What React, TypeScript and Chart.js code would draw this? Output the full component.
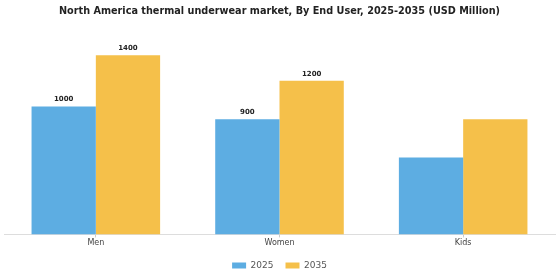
import React, { useEffect, useRef } from "react";
import { Chart, registerables } from "chart.js";

Chart.register(...registerables);

const categories = ["Men", "Women", "Kids"];
const values2025 = [1000, 900, 600];
const values2035 = [1400, 1200, 900];
const showLabels2025 = [true, true, false];
const showLabels2035 = [true, true, false];
const seriesNames = ["2025", "2035"];
const yMax = 1600;

const valueLabelPlugin = {
  id: "valueLabels",
  afterDatasetsDraw(chart: any) {
    const ctx = chart.ctx;
    const flags = [showLabels2025, showLabels2035];
    ctx.save();
    ctx.font = "bold 7px 'DejaVu Sans'";
    ctx.fillStyle = "#222";
    ctx.textAlign = "center";
    ctx.textBaseline = "middle";
    chart.data.datasets.forEach((ds: any, di: number) => {
      const meta = chart.getDatasetMeta(di);
      meta.data.forEach((bar: any, i: number) => {
        if (!flags[di][i]) return;
        ctx.fillText(String(ds.data[i]), bar.x, bar.y - 7);
      });
    });
    ctx.restore();
  },
};

export default function App() {
  const ref = useRef<HTMLCanvasElement | null>(null);
  useEffect(() => {
    if (!ref.current) return;
    const chart = new Chart(ref.current, {
      type: "bar",
      data: {
        labels: categories,
        datasets: [
          { label: seriesNames[0], data: values2025, backgroundColor: "#5DADE2", categoryPercentage: 0.7, barPercentage: 1.0 },
          { label: seriesNames[1], data: values2035, backgroundColor: "#F5C04A", categoryPercentage: 0.7, barPercentage: 1.0 },
        ],
      },
      options: {
        animation: false,
        responsive: false,
        maintainAspectRatio: false,
        layout: { padding: { left: 4, right: 5, top: 4, bottom: 0 } },
        plugins: {
          title: {
            display: true,
            text: "North America thermal underwear market, By End User, 2025-2035 (USD Million)",
            font: { family: "'DejaVu Sans'", size: 9.7, weight: "bold" },
            color: "#222",
            padding: { top: 2, bottom: 12 },
          },
          legend: {
            position: "bottom",
            labels: {
              boxWidth: 14,
              boxHeight: 6,
              padding: 12,
              font: { family: "'DejaVu Sans'", size: 9 },
              color: "#555",
            },
          },
          tooltip: { enabled: false },
        },
        scales: {
          x: {
            grid: { display: true, drawOnChartArea: false, offset: false, tickLength: 3, color: "#ccc" },
            border: { display: true, color: "#ddd" },
            ticks: { font: { family: "'DejaVu Sans'", size: 8 }, color: "#444", padding: 1 },
          },
          y: { display: false, min: 0, max: yMax },
        },
      },
      plugins: [valueLabelPlugin],
    });
    return () => chart.destroy();
  }, []);
  return (
    <div style={{ position: "fixed", left: 0, top: 0, width: 560, height: 280, background: "#fff" }}>
      <canvas ref={ref} width={560} height={280} />
    </div>
  );
}
